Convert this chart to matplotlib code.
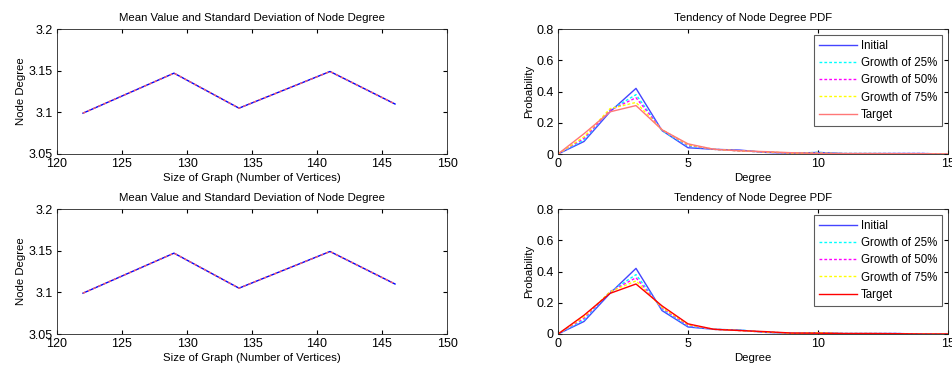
import matplotlib
matplotlib.use("Agg")
import matplotlib.pyplot as plt
import numpy as np

plt.rcParams['font.family'] = ['Liberation Sans', 'DejaVu Sans']
plt.rcParams['font.size'] = 8

# Left panels: mean node degree vs graph size
graph_size = [122, 129, 134, 141, 146]
mean_blue = [3.099, 3.147, 3.105, 3.149, 3.110]
mean_red = [3.099, 3.147, 3.105, 3.149, 3.110]

# Right panels: node degree PDF
degree = list(range(0, 16))
pdf_initial_top = [0, 0.08, 0.27, 0.42, 0.15, 0.04, 0.03, 0.025, 0.01, 0.005, 0.01, 0.003, 0.003, 0.003, 0.003, 0]
pdf_g25_top = [0, 0.09, 0.28, 0.38, 0.15, 0.05, 0.03, 0.02, 0.012, 0.005, 0.01, 0.003, 0.003, 0.003, 0.003, 0]
pdf_g50_top = [0, 0.10, 0.28, 0.36, 0.155, 0.055, 0.03, 0.02, 0.012, 0.005, 0.006, 0.003, 0.003, 0.003, 0.003, 0]
pdf_g75_top = [0, 0.11, 0.29, 0.33, 0.155, 0.06, 0.03, 0.02, 0.013, 0.006, 0.005, 0.003, 0.003, 0.002, 0.002, 0]
pdf_target_top = [0, 0.13, 0.27, 0.31, 0.155, 0.065, 0.03, 0.02, 0.015, 0.008, 0.003, 0.002, 0.002, 0.002, 0.002, 0]

pdf_initial_bot = [0, 0.08, 0.26, 0.42, 0.15, 0.045, 0.03, 0.025, 0.01, 0.005, 0.008, 0.003, 0.003, 0.003, 0, 0]
pdf_g25_bot = [0, 0.09, 0.27, 0.38, 0.16, 0.05, 0.03, 0.025, 0.012, 0.005, 0.008, 0.003, 0.003, 0.003, 0, 0]
pdf_g50_bot = [0, 0.10, 0.27, 0.36, 0.165, 0.055, 0.03, 0.022, 0.012, 0.005, 0.008, 0.003, 0.003, 0.003, 0, 0]
pdf_g75_bot = [0, 0.11, 0.27, 0.34, 0.17, 0.06, 0.03, 0.022, 0.012, 0.005, 0.008, 0.003, 0.003, 0.002, 0, 0]
pdf_target_bot = [0, 0.12, 0.26, 0.32, 0.18, 0.065, 0.03, 0.022, 0.015, 0.006, 0.005, 0.003, 0.003, 0.002, 0, 0]

legend_labels = ['Initial', 'Growth of 25%', 'Growth of 50%', 'Growth of 75%', 'Target']

fig = plt.figure(figsize=(9.53, 3.69), dpi=100)

W, H = 953, 369
def add_ax(l, t, r, b):
    return fig.add_axes([l / W, 1 - b / H, (r - l) / W, (b - t) / H])

def style(ax):
    ax.tick_params(direction='in', top=True, right=True, length=3, labelsize=9)
    ax.tick_params(axis='x', pad=3)
    ax.tick_params(axis='y', pad=3)
    for s in ax.spines.values():
        s.set_linewidth(0.6)
        s.set_color('#222222')

for (t, b) in [(29, 154), (209, 334)]:
    ax = add_ax(57, t, 447, b)
    ax.plot(graph_size, mean_blue, color='blue', lw=1)
    ax.plot(graph_size, mean_red, color='#ff6666', lw=1, ls=(0, (2, 2)))
    ax.set_xlim(120, 150)
    ax.set_ylim(3.05, 3.2)
    ax.set_xticks([120, 125, 130, 135, 140, 145, 150])
    ax.set_yticks([3.05, 3.1, 3.15, 3.2])
    ax.set_yticklabels(['3.05', '3.1', '3.15', '3.2'])
    ax.set_title('Mean Value and Standard Deviation of Node Degree', fontsize=8.2, pad=6)
    ax.set_xlabel('Size of Graph (Number of Vertices)', fontsize=8.2, labelpad=2)
    ax.set_ylabel('Node Degree', fontsize=8.2, labelpad=2)
    style(ax)

sets = [
    ((29, 154), [pdf_initial_top, pdf_g25_top, pdf_g50_top, pdf_g75_top, pdf_target_top], '#ff7777'),
    ((209, 334), [pdf_initial_bot, pdf_g25_bot, pdf_g50_bot, pdf_g75_bot, pdf_target_bot], 'red'),
]
for (t, b), series, tcol in sets:
    ax = add_ax(558, t, 948, b)
    cols = ['#4444ff', 'cyan', 'magenta', 'yellow', tcol]
    styles = ['-', (0, (2, 1.5)), (0, (2, 1.5)), (0, (2, 1.5)), '-']
    for s, c, ls, lab in zip(series, cols, styles, legend_labels):
        ax.plot(degree, s, color=c, ls=ls, lw=1, label=lab)
    ax.set_xlim(0, 15)
    ax.set_ylim(0, 0.8)
    ax.set_xticks([0, 5, 10, 15])
    ax.set_yticks([0, 0.2, 0.4, 0.6, 0.8])
    ax.set_yticklabels(['0', '0.2', '0.4', '0.6', '0.8'])
    ax.set_title('Tendency of Node Degree PDF', fontsize=8.2, pad=6)
    ax.set_xlabel('Degree', fontsize=8.2, labelpad=2)
    ax.set_ylabel('Probability', fontsize=8.2, labelpad=2)
    style(ax)
    leg = ax.legend(loc='upper right', fontsize=8.3, frameon=True, fancybox=False,
                    edgecolor='#333333', borderaxespad=0.5, handlelength=3.3,
                    labelspacing=0.45, borderpad=0.45, handletextpad=0.3)
    leg.get_frame().set_linewidth(0.8)

fig.savefig('out.png', dpi=100)
